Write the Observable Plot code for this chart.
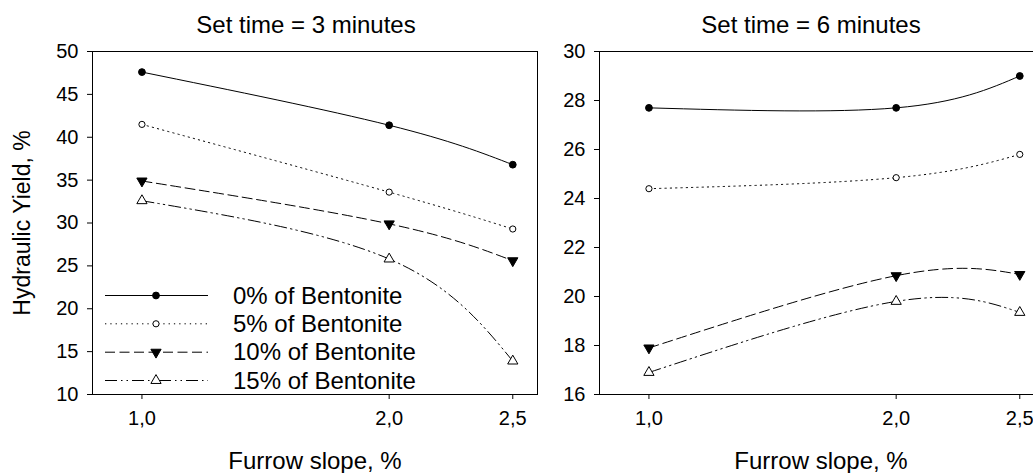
<!DOCTYPE html>
<html><head><meta charset="utf-8">
<script src="https://cdn.jsdelivr.net/npm/d3@7"></script>
<script src="https://cdn.jsdelivr.net/npm/@observablehq/plot@0.6"></script>
<style>
body{margin:0;background:#fff;}
#chart{position:relative;width:1033px;height:473px;overflow:hidden;font-family:"Liberation Sans",Arial,sans-serif;color:#000;background:#fff;}
#chart svg{position:absolute;top:0;}
</style></head><body><div id="chart"></div>
<script>
// Furrow slope, %
const slopes = [1.0, 2.0, 2.5];
const seriesNames = ["0% of Bentonite", "5% of Bentonite", "10% of Bentonite", "15% of Bentonite"];
// Set time = 3 minutes
const b0_3min = [47.6, 41.4, 36.8];
const b5_3min = [41.5, 33.6, 29.3];
const b10_3min = [34.9, 29.9, 25.6];
const b15_3min = [32.6, 25.8, 13.9];
// Set time = 6 minutes
const b0_6min = [27.7, 27.7, 29.0];
const b5_6min = [24.4, 24.85, 25.8];
const b10_6min = [17.9, 20.85, 20.9];
const b15_6min = [16.9, 19.8, 19.35];
const yTicks3 = [10, 15, 20, 25, 30, 35, 40, 45, 50];
const yTicks6 = [16, 18, 20, 22, 24, 26, 28, 30];
const titles = ["Set time = 3 minutes", "Set time = 6 minutes"];

const styles = [
  {dash: null, symbol: "circle", fill: "black", r: 3.4, rotate: 0},
  {dash: "1.3,4", symbol: "circle", fill: "white", r: 3.1, rotate: 0},
  {dash: "10,4.5", symbol: "triangle", fill: "black", r: 3.8, rotate: 180},
  {dash: "12,4,1.5,4,1.5,4", symbol: "triangle", fill: "white", r: 3.8, rotate: 0}
];
const FONT = '"Liberation Sans", Arial, sans-serif';

function panel(seriesVals, yDomain, yTicks) {
  const marks = [Plot.frame({stroke: "black"})];
  seriesVals.forEach((vals, i) => {
    const rows = slopes.map((s, j) => ({x: s, y: vals[j]}));
    const st = styles[i];
    marks.push(Plot.line(rows, {x: "x", y: "y", curve: "natural", stroke: "black", strokeWidth: 1,
      strokeDasharray: st.dash || undefined}));
  });
  seriesVals.forEach((vals, i) => {
    const rows = slopes.map((s, j) => ({x: s, y: vals[j]}));
    const st = styles[i];
    marks.push(Plot.dot(rows, {x: "x", y: "y", symbol: st.symbol, r: st.r, rotate: st.rotate,
      fill: st.fill, stroke: "black", strokeWidth: 1}));
  });
  return Plot.plot({
    width: 538, height: 473,
    marginLeft: 92, marginRight: 1, marginTop: 51, marginBottom: 79,
    style: {background: "transparent", fontFamily: FONT, fontSize: "20px", maxWidth: "none", overflow: "visible", color: "black"},
    x: {domain: [0.8, 2.6], ticks: slopes, tickFormat: d => d.toFixed(1).replace(".", ","), tickSize: 5, tickPadding: 11, label: null},
    y: {domain: yDomain, ticks: yTicks, tickSize: 5, tickPadding: 9, label: null},
    marks
  });
}

const chart = document.getElementById("chart");
const p1 = panel([b0_3min, b5_3min, b10_3min, b15_3min], [10, 50], yTicks3);
p1.style.left = "0px";
chart.appendChild(p1);
const p2 = panel([b0_6min, b5_6min, b10_6min, b15_6min], [16, 30], yTicks6);
p2.style.left = "507px";
chart.appendChild(p2);

// Overlay: titles, axis labels, legend
const svg = d3.select(chart).append("svg")
  .attr("width", 1033).attr("height", 473)
  .style("left", "0px").style("pointer-events", "none")
  .attr("font-family", FONT).attr("fill", "black");

svg.append("text").attr("x", 306).attr("y", 33).attr("text-anchor", "middle").attr("font-size", 24).text(titles[0]);
svg.append("text").attr("x", 811).attr("y", 33).attr("text-anchor", "middle").attr("font-size", 24).text(titles[1]);
svg.append("text").attr("x", 315).attr("y", 469).attr("text-anchor", "middle").attr("font-size", 24).text("Furrow slope, %");
svg.append("text").attr("x", 821).attr("y", 469).attr("text-anchor", "middle").attr("font-size", 24).text("Furrow slope, %");
svg.append("text").attr("transform", "translate(30,223) rotate(-90)").attr("text-anchor", "middle").attr("font-size", 23).text("Hydraulic Yield, %");

const legendY = [295, 323.3, 351.7, 380];
seriesNames.forEach((name, i) => {
  const st = styles[i];
  const g = svg.append("g").attr("transform", `translate(0,${legendY[i]})`);
  g.append("line").attr("x1", 105).attr("x2", 208).attr("y1", 0.5).attr("y2", 0.5)
    .attr("stroke", "black").attr("stroke-width", 1).attr("stroke-dasharray", st.dash);
  const sym = st.symbol === "circle" ? d3.symbolCircle : d3.symbolTriangle;
  g.append("path").attr("d", d3.symbol(sym, Math.PI * st.r * st.r)())
    .attr("transform", `translate(156,0.5) rotate(${st.rotate})`)
    .attr("fill", st.fill).attr("stroke", "black").attr("stroke-width", 1);
  g.append("text").attr("x", 233).attr("y", 0).attr("dy", "0.36em").attr("font-size", 24).text(name);
});
</script></body></html>
